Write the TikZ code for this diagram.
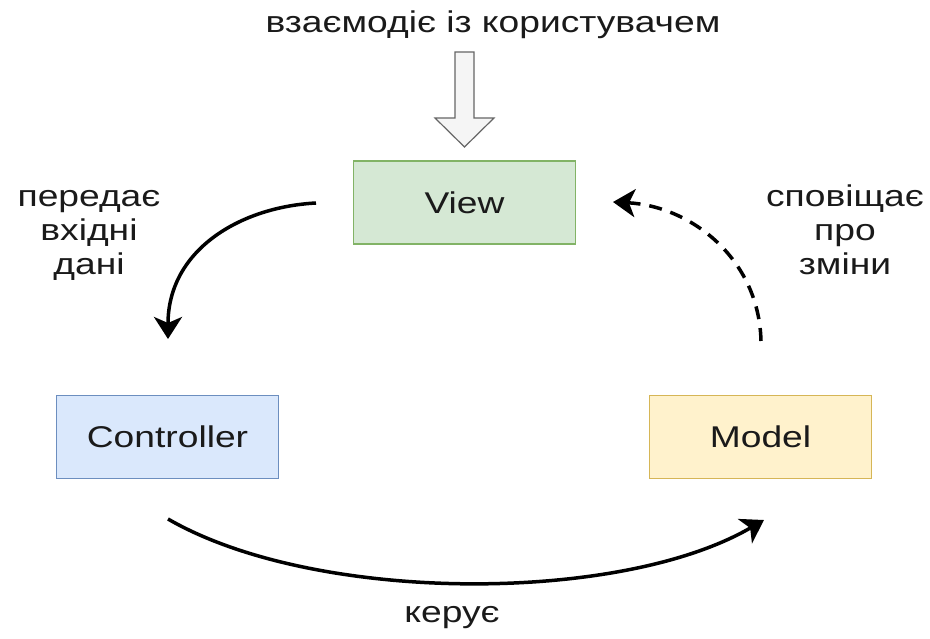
\documentclass[tikz,border=0pt]{standalone}
\usepackage{fontspec}
\setmainfont{Liberation Sans}
\usepackage{graphicx}
\usetikzlibrary{arrows.meta}
\definecolor{vfill}{HTML}{D5E8D4}
\definecolor{vdraw}{HTML}{82B366}
\definecolor{cfill}{HTML}{DAE8FC}
\definecolor{cdraw}{HTML}{6C8EBF}
\definecolor{mfill}{HTML}{FFF2CC}
\definecolor{mdraw}{HTML}{D6B656}
\definecolor{afill}{HTML}{F5F5F5}
\definecolor{adraw}{HTML}{666666}
\definecolor{txtcol}{HTML}{1A1A1A}
\newcommand{\stx}[1]{\scalebox{1.24}[1]{#1}}
\begin{document}
\begin{tikzpicture}[x=1pt,y=-1pt,
  every node/.style={font=\fontsize{30}{34}\selectfont, text=txtcol},
  box/.style={draw, line width=1.5pt, minimum width=222pt, minimum height=83pt, inner sep=0pt},
  flow/.style={line width=3.5pt, -{Stealth[length=22pt,width=28pt,inset=6pt]}},
  dflow/.style={flow, dash pattern=on 13pt off 9pt}]
\useasboundingbox (0,0) rectangle (930,639);

% boxes
\node[box, fill=vfill, draw=vdraw] (view) at (464.5,202.5) {\stx{View}};
\node[box, fill=cfill, draw=cdraw] (ctrl) at (167.5,437) {\stx{Controller}};
\node[box, fill=mfill, draw=mdraw] (model) at (760.5,437) {\stx{Model}};

% labels
\node[anchor=base] (user) at (493,33) {\stx{взаємодіє із користувачем}};
\node (inp) at (89,234) {\stx{\begin{tabular}{@{}c@{}}передає\\вхідні\\дані\end{tabular}}};
\node (notify) at (845,234) {\stx{\begin{tabular}{@{}c@{}}сповіщає\\про\\зміни\end{tabular}}};
\node[anchor=base] (ctl) at (452,622) {\stx{керує}};

% hollow block arrow from user text to view
\draw[fill=afill, draw=adraw, line width=1.2pt]
  (455,52) -- (474,52) -- (474,118) -- (494,118) -- (464.5,147) -- (435,118) -- (455,118) -- cycle;

% connector end points
\coordinate (vL) at (316,203);
\coordinate (cT) at (168,339);
\coordinate (cB) at (168,519);
\coordinate (mB) at (764,520);
\coordinate (mT) at (761,341);
\coordinate (vR) at (613,202);

\draw[flow] (vL) .. controls (240,207) and (168,250) .. (cT);
\draw[flow] (cB) .. controls (315,604) and (620,604) .. (mB);
\draw[dflow] (mT) .. controls (759,258) and (690,206) .. (vR);
\end{tikzpicture}
\end{document}
